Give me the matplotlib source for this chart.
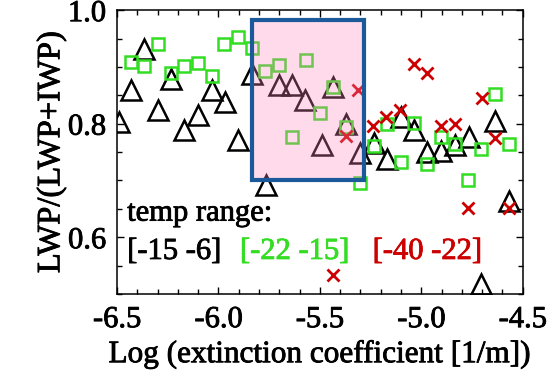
import numpy as np
import matplotlib.pyplot as plt
import matplotlib.patheffects as pe
from matplotlib.patches import Rectangle
from matplotlib.ticker import MultipleLocator, FormatStrFormatter

plt.rcParams['font.family'] = ['Liberation Serif', 'DejaVu Serif']
plt.rcParams['axes.unicode_minus'] = False

# temp range [-15 -6]  (black triangles)
warm_x = [-6.49, -6.367, -6.433, -6.234, -6.30, -6.10, -6.168, -6.034, -5.968, -5.902,
          -5.836, -5.702, -5.636, -5.571, -5.49, -5.434, -5.369, -5.303, -5.768, -5.233,
          -5.167, -5.10, -5.035, -4.970, -4.901, -4.835, -4.766, -4.635, -4.569, -4.704]
warm_y = [0.803, 0.931, 0.860, 0.879, 0.824, 0.815, 0.789, 0.860, 0.839, 0.771,
          0.887, 0.868, 0.868, 0.842, 0.762, 0.865, 0.799, 0.748, 0.692, 0.766,
          0.737, 0.811, 0.789, 0.750, 0.752, 0.762, 0.777, 0.805, 0.663, 0.517]

# temp range [-22 -15]  (green squares)
mid_x = [-6.433, -6.367, -6.30, -6.234, -6.168, -6.103, -6.034, -5.972, -5.902, -5.836,
         -5.771, -5.702, -5.569, -5.50, -5.635, -5.434, -5.369, -5.303, -5.233, -5.167,
         -5.10, -5.035, -4.970, -4.901, -4.835, -4.704, -4.635, -4.569, -4.770]
mid_y = [0.909, 0.901, 0.941, 0.889, 0.902, 0.907, 0.884, 0.940, 0.952, 0.933,
         0.893, 0.903, 0.913, 0.818, 0.777, 0.865, 0.795, 0.695, 0.761, 0.799,
         0.732, 0.802, 0.729, 0.777, 0.764, 0.755, 0.852, 0.764, 0.701]

# temp range [-40 -22]  (red crosses)
cold_x = [-5.311, -5.369, -5.237, -5.172, -5.106, -5.035, -4.970, -4.901, -4.835, -4.70,
          -4.635, -4.770, -4.569, -5.434]
cold_y = [0.860, 0.778, 0.796, 0.812, 0.825, 0.905, 0.890, 0.796, 0.800, 0.846,
          0.774, 0.651, 0.651, 0.533]

# highlighted range
box_x = [-5.835, -5.283]
box_y = [0.701, 0.982]

fig = plt.figure(figsize=(5.52, 3.76), dpi=100)
ax = fig.add_axes([0.212, 0.218, 0.735, 0.755])

ax.plot(warm_x, warm_y, ls='none', marker='^', ms=14, mfc='none', mec='black', mew=1.8)
ax.plot(mid_x, mid_y, ls='none', marker='s', ms=8, mfc='none', mec='#33dd22', mew=1.8)
ax.plot(cold_x, cold_y, ls='none', marker='x', ms=8, mec='#cc0000', mew=2.0)

ax.add_patch(Rectangle((box_x[0], box_y[0]), box_x[1] - box_x[0], box_y[1] - box_y[0],
                       facecolor=(1.0, 0.53, 0.75, 0.3), edgecolor='#1a5a9a', lw=3, zorder=5))

ax.set_xlim(-6.5, -4.5)
ax.set_ylim(0.5, 1.0)
ax.xaxis.set_major_locator(MultipleLocator(0.5))
ax.xaxis.set_minor_locator(MultipleLocator(0.1))
ax.yaxis.set_major_locator(MultipleLocator(0.2))
ax.yaxis.set_minor_locator(MultipleLocator(0.05))
ax.xaxis.set_major_formatter(FormatStrFormatter('%.1f'))
ax.yaxis.set_major_formatter(FormatStrFormatter('%.1f'))
ax.tick_params(which='both', direction='in', top=True, right=True, labelsize=22, pad=8)
ax.tick_params(which='major', length=5, width=1)
ax.tick_params(which='minor', length=3.5, width=1)
for s in ax.spines.values():
    s.set_linewidth(1.1)

ax.set_xlabel('Log (extinction coefficient [1/m])', fontsize=22.5, labelpad=4)
ax.set_ylabel('LWP/(LWP+IWP)', fontsize=23.5, labelpad=1)

ax.text(0.025, 0.285, 'temp range:', transform=ax.transAxes, fontsize=22, va='center')
ax.text(0.025, 0.15, '[-15 -6]', transform=ax.transAxes, fontsize=22, va='center', color='black')
ax.text(0.303, 0.15, '[-22 -15]', transform=ax.transAxes, fontsize=22, va='center', color='#33dd22')
ax.text(0.63, 0.15, '[-40 -22]', transform=ax.transAxes, fontsize=22, va='center', color='#cc0000')

# heavier text rendering like the original
texts = ax.texts + ax.get_xticklabels() + ax.get_yticklabels() + [ax.xaxis.label, ax.yaxis.label]
for t in texts:
    t.set_path_effects([pe.withStroke(linewidth=0.6, foreground=t.get_color())])

fig.savefig('out.png', dpi=100)
